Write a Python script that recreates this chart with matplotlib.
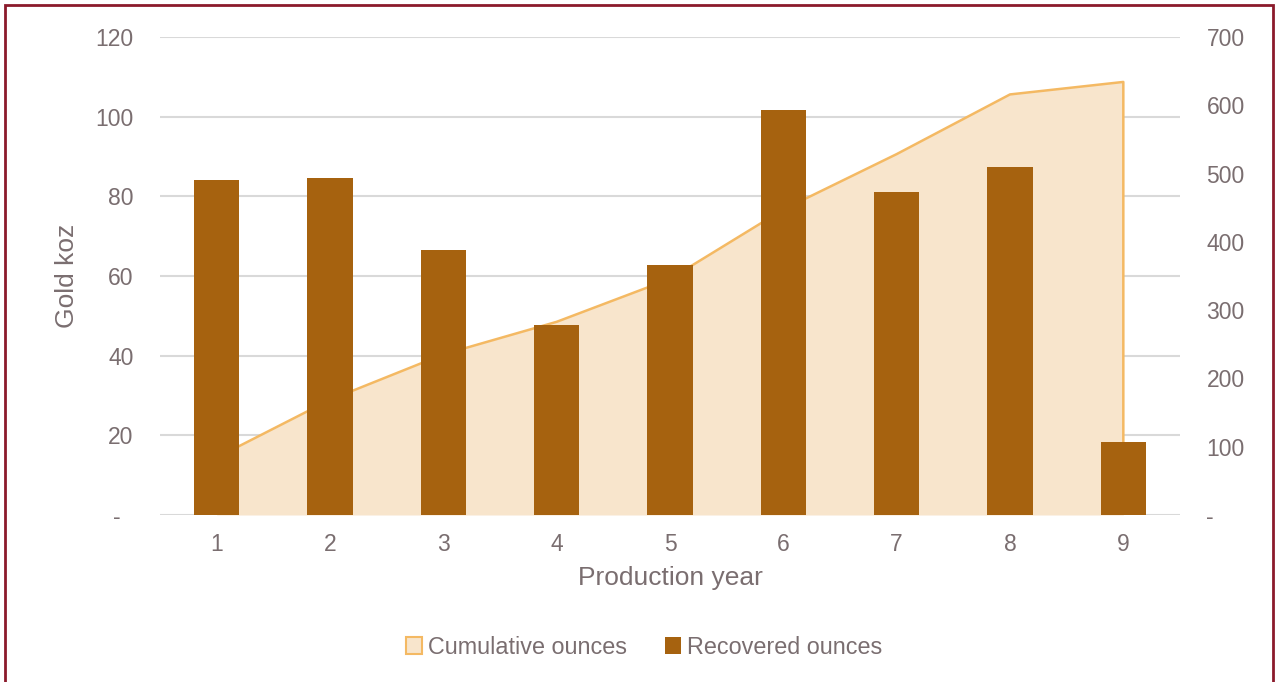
import matplotlib.pyplot as plt
from matplotlib.patches import Rectangle, Patch
from matplotlib.ticker import FuncFormatter

plt.rcParams['font.family'] = ['Liberation Sans', 'DejaVu Sans']

years = [1, 2, 3, 4, 5, 6, 7, 8, 9]
recovered = [84.1, 84.6, 66.5, 47.7, 62.8, 101.7, 81.1, 87.4, 18.3]
cumulative = [84.1, 168.7, 235.2, 282.9, 345.7, 447.4, 528.5, 615.9, 634.2]

txt = '#7A6E70'
bar_col = '#A6620F'
fill_col = '#F8E5CC'
line_col = '#F4B963'

fig = plt.figure(figsize=(12.75, 6.82), dpi=100)
ax = fig.add_axes([160 / 1275, 1 - 515 / 682, 1020 / 1275, 478 / 682])
ax2 = ax.twinx()

# grid on the back axes so the area covers it
for v in range(0, 121, 20):
    ax2.axhline(v * 700 / 120, color='#D9D9D9', lw=1.5, zorder=0)

# cumulative area on the right axis, drawn behind the bars
ax2.fill_between(years, cumulative, 0, color=fill_col, lw=0, zorder=1)
ax2.plot(years + [years[-1]], cumulative + [0], color=line_col, lw=1.8, zorder=2)
ax2.set_ylim(0, 700)
ax2.set_yticks(range(0, 701, 100))

ax.set_zorder(ax2.get_zorder() + 1)
ax.patch.set_visible(False)
ax.bar(years, recovered, width=0.4, color=bar_col, zorder=3)
ax.set_ylim(0, 120)
ax.set_yticks(range(0, 121, 20))
ax.set_xlim(0.5, 9.5)
ax.set_xticks(years)

ax.yaxis.set_major_formatter(FuncFormatter(lambda v, p: '-  ' if v == 0 else f'{v:.0f}'))
ax2.yaxis.set_major_formatter(FuncFormatter(lambda v, p: '-' if v == 0 else f'{v:.0f}'))

for a in (ax, ax2):
    for s in a.spines.values():
        s.set_visible(False)
    a.tick_params(length=0, labelsize=16.5, colors=txt)
    a.grid(False)
ax.tick_params(axis='y', pad=19)
ax2.tick_params(axis='y', pad=19)
ax.tick_params(axis='x', pad=13)

ax.set_xlabel('Production year', fontsize=19, color=txt, labelpad=7)
ax.set_ylabel('Gold koz', fontsize=19, color=txt, labelpad=12)

handles = [Patch(facecolor=fill_col, edgecolor=line_col, lw=1.5, label='Cumulative ounces'),
           Patch(facecolor=bar_col, label='Recovered ounces')]
fig.legend(handles=handles, loc='center', bbox_to_anchor=(644 / 1275, 1 - 647 / 682), ncol=2,
           frameon=False, fontsize=16.8, labelcolor=txt, handlelength=0.7, handleheight=0.7,
           handletextpad=0.25, columnspacing=1.6)

fig.patches.append(Rectangle((5 / 1275, -0.05), 1268 / 1275, 1.05 - 5 / 682, transform=fig.transFigure,
                             fill=False, edgecolor='#8B1A2B', lw=2))

fig.savefig('out.png', dpi=100)
